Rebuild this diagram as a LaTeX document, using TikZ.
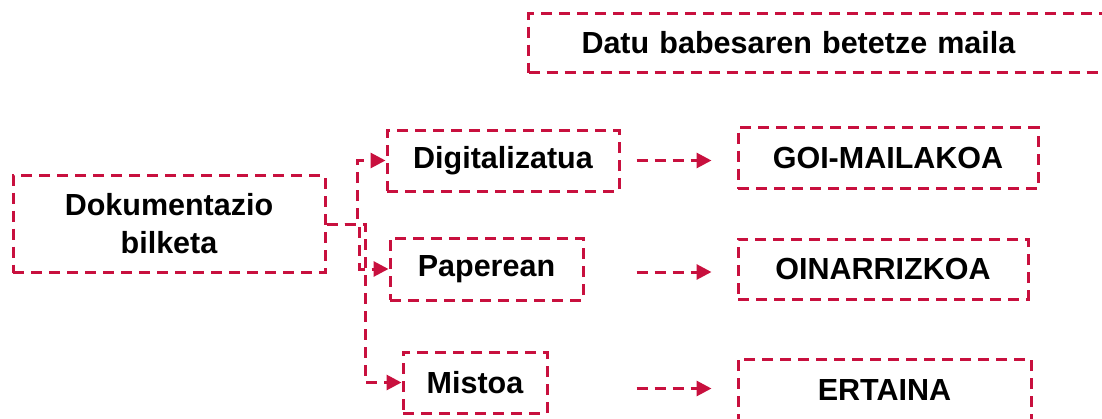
\documentclass[tikz,border=0pt]{standalone}
\usepackage{fontspec}
\setmainfont{Liberation Sans}
\usepackage{xcolor}
\usetikzlibrary{arrows.meta}
\definecolor{crim}{RGB}{200,16,62}
\tikzstyle{redline}=[draw=crim,line width=3pt,dash pattern=on 11pt off 7pt]
\tikzstyle{box}=[redline,font=\fontsize{30.5}{38}\selectfont\bfseries,align=center,inner sep=0pt]
\tikzstyle{link}=[redline,-{Triangle[length=15pt,width=15pt]}]

\begin{document}
\begin{tikzpicture}[x=1pt,y=-1pt]
				\useasboundingbox (0,0) rectangle (1102,418);
				\node[box,minimum width=312pt,minimum height=97pt] (dok) at (169,224) {Dokumentazio\\bilketa};
				\node[box,minimum width=232pt,minimum height=61pt] (dig) at (503,160.5) {Digitalizatua};
				\node[box,minimum width=193pt,minimum height=62pt] (pap) at (486.5,269) {Paperean};
				\node[box,minimum width=144pt,minimum height=61pt] (mis) at (475,382.5) {Mistoa};
				\node[box,minimum width=300pt,minimum height=61pt] (goi) at (888,158) {GOI-MAILAKOA};
				\node[box,minimum width=290pt,minimum height=60pt] (oin) at (883,269) {OINARRIZKOA};
				\node[box,minimum width=293pt,minimum height=61pt] (ert) at (884.5,389.5) {ERTAINA};
				\node[box,anchor=west,text width=470pt,align=left,inner xsep=53pt,minimum height=59pt] (datu) at (527,43) {Datu babesaren betetze maila};
				% elbows out of the left box
				\draw[link] (dok.east) -- ++(31,0) |- (dig.west);
				\draw[link] (dok.east) -- ++(33,0) |- (pap.west);
				\draw[link] (dok.east) -- ++(39,0) |- (mis.west);
				% levels
				\draw[link,shorten <=16pt,shorten >=25pt] (dig.east) -- (dig.east -| goi.west);
				\draw[link,shorten <=52pt,shorten >=25pt] ([yshift=-3pt]pap.east) -- ([yshift=-3pt]pap.east -| oin.west);
				\draw[link,shorten <=88pt,shorten >=25pt] ([yshift=-6pt]mis.east) -- ([yshift=-6pt]mis.east -| ert.west);
\end{tikzpicture}
\end{document}
